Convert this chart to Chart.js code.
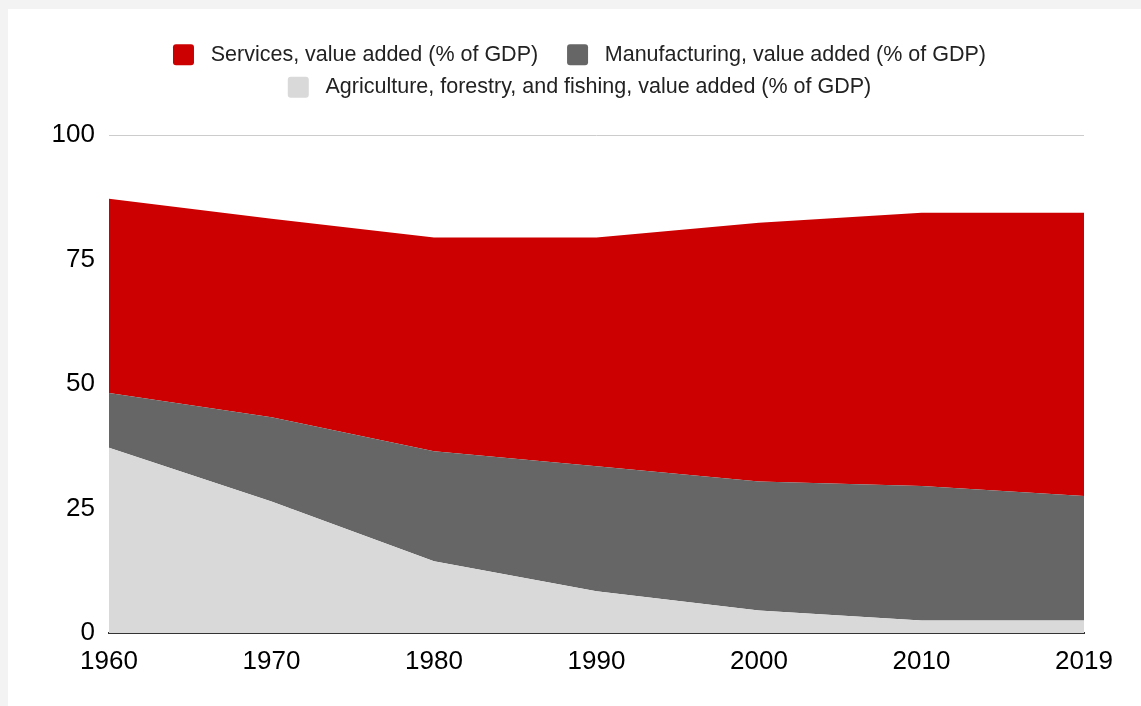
<!DOCTYPE html>
<html>
<head>
<meta charset="utf-8">
<script src="https://cdn.jsdelivr.net/npm/chart.js@4"></script>
<style>
  html, body { margin: 0; padding: 0; background: #f3f3f3; }
  #wrap { position: absolute; left: 8px; top: 9px; width: 1133px; height: 697px; background: #fff; }
</style>
</head>
<body>
<div id="wrap"><canvas id="chart"></canvas></div>
<script>
// Value added by sector, % of GDP
const years = ['1960', '1970', '1980', '1990', '2000', '2010', '2019'];
const agriculture = [37.2, 26.4, 14.4, 8.4, 4.5, 2.5, 2.5];
const manufacturing = [11.0, 16.9, 22.1, 25.1, 25.9, 27.0, 25.0];
const services = [39.0, 39.9, 42.9, 45.9, 52.0, 54.9, 56.9];
const yTicks = [0, 25, 50, 75, 100];

const font = "Arial, 'Liberation Sans', sans-serif";

// make a filled area dataset
function area(label, data, color, fill) {
    return {
        label: label,
        data: data,
        backgroundColor: color,
        borderColor: color,
        borderWidth: 0,
        pointRadius: 0,
        tension: 0,
        fill: fill
    };
}

// legend: extra room below it, and centre it on the whole panel
const legendSpace = {
    id: 'legendSpace',
    beforeInit(chart) {
        const fit = chart.legend.fit;
        chart.legend.fit = function () {
            fit.bind(this)();
            this.height += 27;
        };
    },
    afterLayout(chart) {
        chart.legend.left = 10;
        chart.legend.right = chart.width;
    }
};

new Chart(document.getElementById('chart'), {
    type: 'line',
    data: {
        labels: years,
        datasets: [
            area('Agriculture, forestry, and fishing, value added (% of GDP)', agriculture, '#d9d9d9', 'origin'),
            area('Manufacturing, value added (% of GDP)', manufacturing, '#666666', '-1'),
            area('Services, value added (% of GDP)', services, '#cc0000', '-1')
        ]
    },
    options: {
        responsive: true,
        maintainAspectRatio: false,
        animation: false,
        layout: { padding: { top: 24, right: 57, bottom: 0, left: 0 } },
        plugins: {
            legend: {
                reverse: true,
                labels: {
                    color: '#222',
                    font: { family: font, size: 21.5 },
                    boxWidth: 21,
                    boxHeight: 21,
                    padding: 11,
                    useBorderRadius: true,
                    borderRadius: 3,
                    // a bit more air between box and text, and between the two items on row one
                    generateLabels(chart) {
                        const items = Chart.defaults.plugins.legend.labels.generateLabels(chart);
                        items.forEach(item => {
                            item.text = ' ' + item.text + (item.datasetIndex === 2 ? '   ' : '');
                        });
                        return items;
                    }
                }
            },
            tooltip: { enabled: false }
        },
        scales: {
            x: {
                offset: false,
                grid: { display: false, drawTicks: false },
                border: { color: '#333333', width: 2 },
                ticks: { color: '#000', font: { family: font, size: 26 }, padding: 13, maxRotation: 0 },
                afterFit(scale) { scale.height = 73; }
            },
            y: {
                stacked: true,
                min: 0,
                max: 100,
                afterBuildTicks(scale) { scale.ticks = yTicks.map(v => ({ value: v })); },
                grid: { color: '#cccccc', drawTicks: false },
                border: { display: false },
                ticks: { color: '#000', font: { family: font, size: 26 }, padding: 14 },
                afterFit(scale) { scale.width = 101; }
            }
        }
    },
    plugins: [legendSpace]
});
</script>
</body>
</html>
